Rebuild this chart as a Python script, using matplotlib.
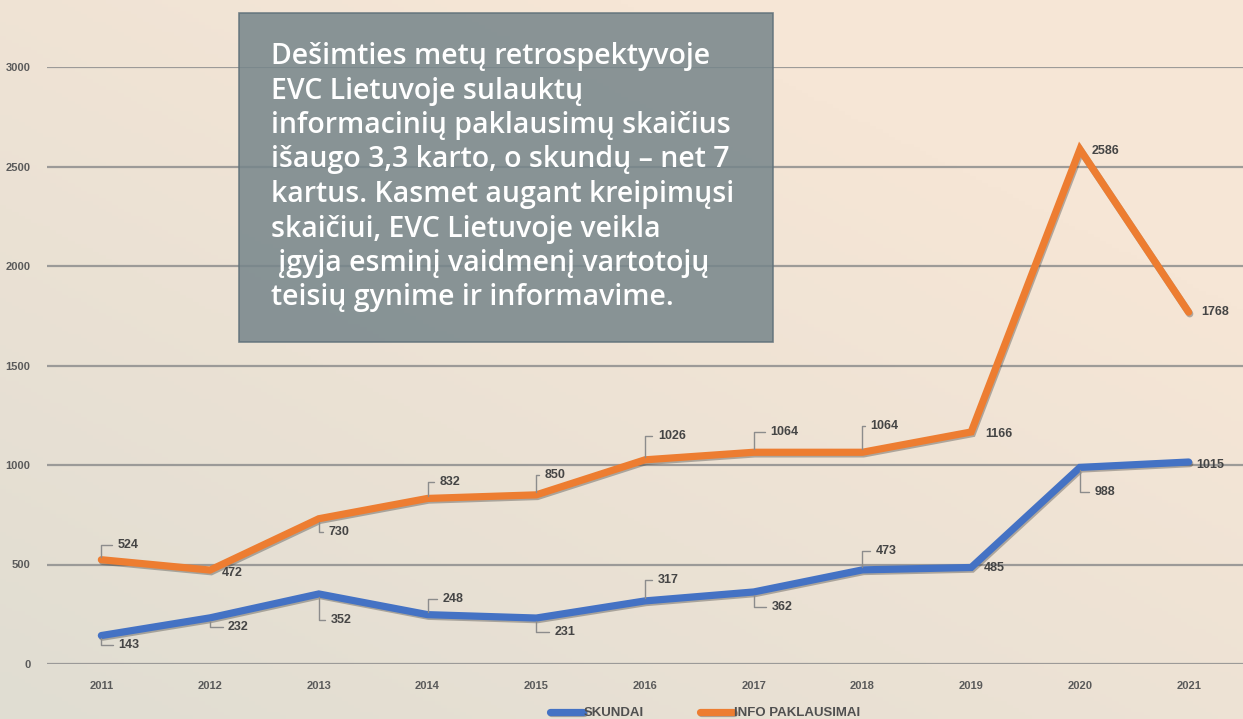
import numpy as np
import matplotlib
matplotlib.use('Agg')
import matplotlib.pyplot as plt
import matplotlib.patheffects as pe
from matplotlib.patches import Rectangle

# duomenys
metai = ['2011', '2012', '2013', '2014', '2015', '2016', '2017', '2018', '2019', '2020', '2021']
skundai = [143, 232, 352, 248, 231, 317, 362, 473, 485, 988, 1015]
info = [524, 472, 730, 832, 850, 1026, 1064, 1064, 1166, 2586, 1768]

# etikečių poslinkiai (pikseliais) ir ar rodyti jungiamąją liniją
info_off = [(16, 15, 1), (12, -3, 0), (10, -13, 1), (12, 16, 1), (8, 20, 1), (13, 24, 1),
            (17, 20, 1), (8, 26, 1), (14, -2, 0), (12, -2, 0), (13, 0, 0)]
sk_off = [(17, -9, 1), (18, -9, 1), (12, -26, 1), (15, 16, 1), (18, -14, 1), (13, 21, 1),
          (18, -15, 1), (13, 19, 1), (13, -1, 0), (15, -25, 1), (8, -3, 0)]

plt.rcParams['font.family'] = ['Liberation Sans', 'DejaVu Sans']

fig = plt.figure(figsize=(12.43, 7.19), dpi=100)

# fonas su gradientu
bg = fig.add_axes([0, 0, 1, 1], zorder=-10)
yy, xx = np.mgrid[0:1:200j, 0:1:200j]
t = np.clip(0.6 * xx + 0.7 * yy, 0, 1)[..., None]
c0 = np.array([0xe0, 0xdd, 0xd2]) / 255
c1 = np.array([0xf6, 0xe6, 0xd6]) / 255
img = c0 * (1 - t) + c1 * t
bg.imshow(img, origin='lower', extent=[0, 1, 0, 1], aspect='auto')
bg.set_axis_off()

ax = fig.add_axes([47 / 1243, 1 - 664 / 719, 1 - 47 / 1243, 597 / 719])
ax.patch.set_alpha(0)
x = np.arange(len(metai))

shadow = [pe.SimpleLineShadow(offset=(0.8, -1.2), shadow_color='#333333', alpha=0.35), pe.Normal()]
ax.plot(x, skundai, color='#4472c4', lw=5.2, solid_capstyle='round', solid_joinstyle='miter',
        path_effects=shadow, label='SKUNDAI', zorder=3)
ax.plot(x, info, color='#ed7d31', lw=5.2, solid_capstyle='round', solid_joinstyle='miter',
        path_effects=shadow, label='INFO PAKLAUSIMAI', zorder=3)

def zymes(vals, offs):
    for i, (v, (dx, dy, lin)) in enumerate(zip(vals, offs)):
        ap = None
        if lin:
            ap = dict(arrowstyle='-', color='#8c8c8c', lw=1,
                      connectionstyle='angle,angleA=0,angleB=90,rad=0', shrinkA=2, shrinkB=2)
        ax.annotate(str(v), (i, v), xytext=(dx, dy), textcoords='offset pixels',
                    ha='left', va='center', fontsize=9, fontweight='bold', color='#454545',
                    arrowprops=ap, zorder=4)

zymes(info, info_off)
zymes(skundai, sk_off)

ax.set_xlim(-0.5, len(metai) - 0.5)
ax.set_ylim(0, 3000)
ax.set_yticks(range(0, 3001, 500))
ax.set_xticks(x)
ax.set_xticklabels(metai)
ax.grid(axis='y', color='#8e8e8e', lw=1.6, alpha=0.85)
ax.set_axisbelow(True)
for s in ax.spines.values():
    s.set_visible(False)
ax.tick_params(length=0, labelsize=8, labelcolor='#5a5a5a')
ax.tick_params(axis='x', pad=12)
ax.tick_params(axis='y', pad=12)
for lbl in ax.get_xticklabels() + ax.get_yticklabels():
    lbl.set_fontweight('bold')

fig.legend(loc='center', bbox_to_anchor=(0.567, 0.008), ncol=2, frameon=False,
           handlelength=2.5, handletextpad=0.05, columnspacing=4.3,
           labelcolor='#505050', prop={'weight': 'bold', 'size': 9.5})

# tekstinis blokas
fig.patches.append(Rectangle((239 / 1243, 1 - 342 / 719), 534 / 1243, 329 / 719,
                             transform=fig.transFigure, facecolor='#76858a', alpha=0.85,
                             edgecolor='#5f7079', lw=1.2, zorder=5))
tekstas = ('Dešimties metų retrospektyvoje\n'
           'EVC Lietuvoje sulauktų\n'
           'informacinių paklausimų skaičius\n'
           'išaugo 3,3 karto, o skundų – net 7\n'
           'kartus. Kasmet augant kreipimųsi\n'
           'skaičiui, EVC Lietuvoje veikla\n'
           ' įgyja esminį vaidmenį vartotojų\n'
           'teisių gynime ir informavime.')
fig.text(271 / 1243, 1 - 42 / 719, tekstas, ha='left', va='top', color='white',
         fontsize=20.5, fontweight='semibold', linespacing=1.25, family=['Open Sans', 'DejaVu Sans'],
         zorder=6)

fig.savefig('out.png', dpi=100)
